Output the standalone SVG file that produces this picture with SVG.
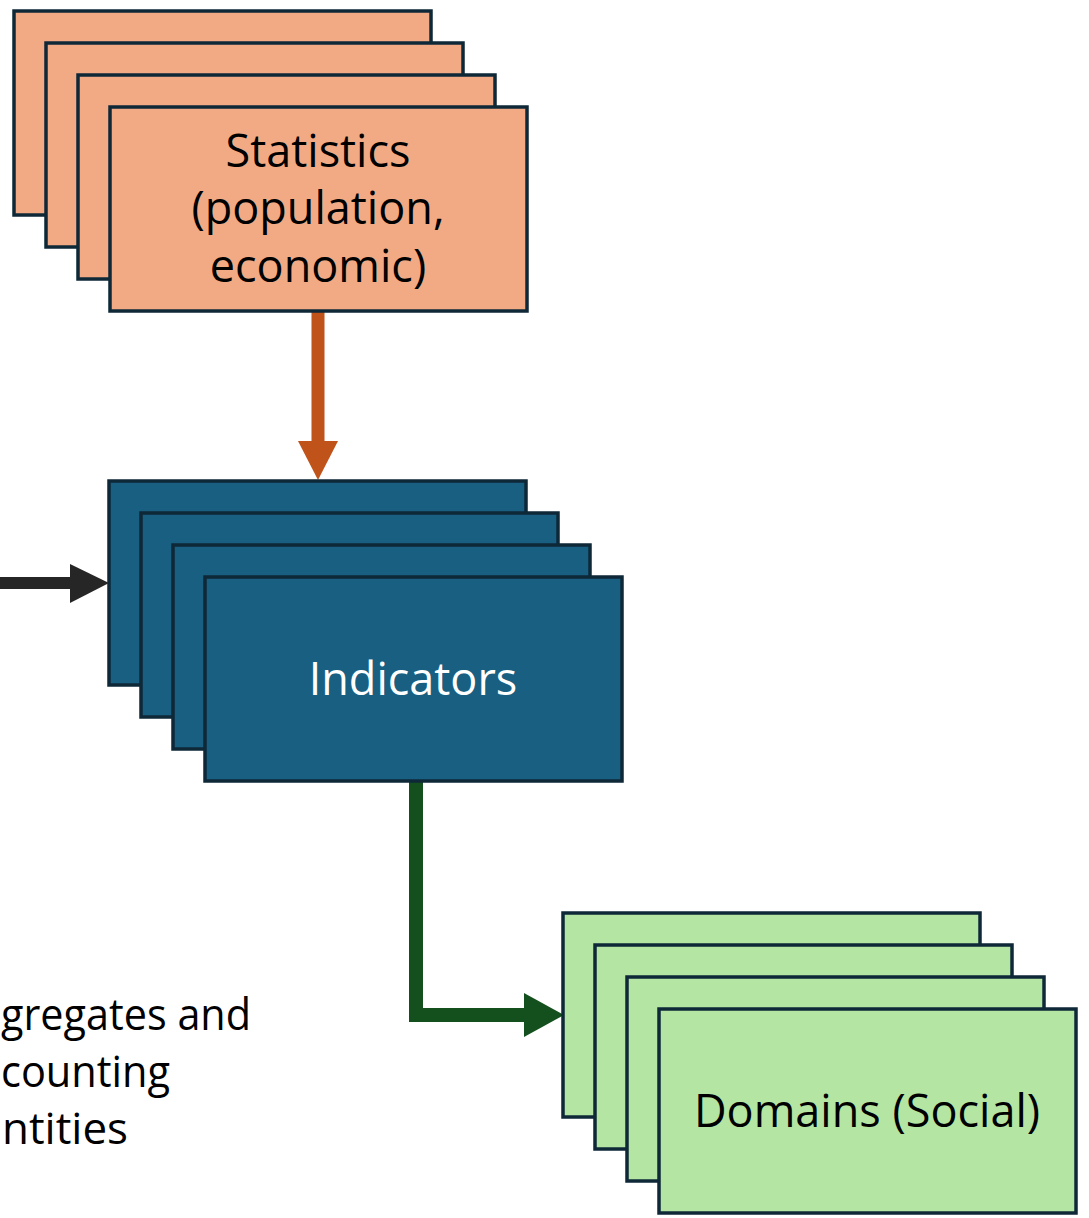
<svg xmlns="http://www.w3.org/2000/svg" width="1089" height="1218" viewBox="0 0 1089 1218">
<style>
.card{stroke:#0e2838;stroke-width:3.5}
.sal{fill:#f2aa84}
.blu{fill:#185f82}
.grn{fill:#b4e5a2}
.t{font-family:"Open Sans","Liberation Sans",sans-serif;font-size:45px;text-anchor:middle}
.lt{font-family:"Open Sans","Liberation Sans",sans-serif;font-size:44px;fill:#000}
</style>
<rect width="1089" height="1218" fill="#fff"/>
<g id="connectors">
  <path d="M318 311 V442" stroke="#c0531a" stroke-width="13" fill="none"/>
  <polygon points="298,441 338,441 318,480" fill="#c0531a"/>
  <path d="M0 583 H74" stroke="#262626" stroke-width="12" fill="none"/>
  <polygon points="70,564 109,583 70,603" fill="#262626"/>
  <path d="M416 781 V1015 H528" stroke="#14501e" stroke-width="14" fill="none"/>
  <polygon points="524,993 564,1015 524,1037" fill="#14501e"/>
</g>
<g id="statistics">
  <rect class="card sal" x="14" y="11" width="417" height="204"/>
  <rect class="card sal" x="46" y="43" width="417" height="204"/>
  <rect class="card sal" x="78" y="75" width="417" height="204"/>
  <rect class="card sal" x="110" y="107" width="417" height="204"/>
  <text class="t" fill="#000"><tspan x="318" y="167">Statistics</tspan><tspan x="318" y="224">(population,</tspan><tspan x="318" y="282">economic)</tspan></text>
</g>
<g id="indicators">
  <rect class="card blu" x="109" y="481" width="417" height="204"/>
  <rect class="card blu" x="141" y="513" width="417" height="204"/>
  <rect class="card blu" x="173" y="545" width="417" height="204"/>
  <rect class="card blu" x="205" y="577" width="417" height="204"/>
  <text class="t" x="413" y="695" fill="#fff">Indicators</text>
</g>
<g id="domains">
  <rect class="card grn" x="563" y="913" width="417" height="204"/>
  <rect class="card grn" x="595" y="945" width="417" height="204"/>
  <rect class="card grn" x="627" y="977" width="417" height="204"/>
  <rect class="card grn" x="659" y="1009" width="417" height="204"/>
  <text class="t" x="867" y="1127" fill="#000">Domains (Social)</text>
</g>
<g id="aggregates">
  <text class="lt" x="1" y="1030" textLength="250" lengthAdjust="spacingAndGlyphs">gregates and</text>
  <text class="lt" x="1" y="1087" textLength="169" lengthAdjust="spacingAndGlyphs">counting</text>
  <text class="lt" x="2" y="1144" textLength="126" lengthAdjust="spacingAndGlyphs">ntities</text>
</g>
</svg>
